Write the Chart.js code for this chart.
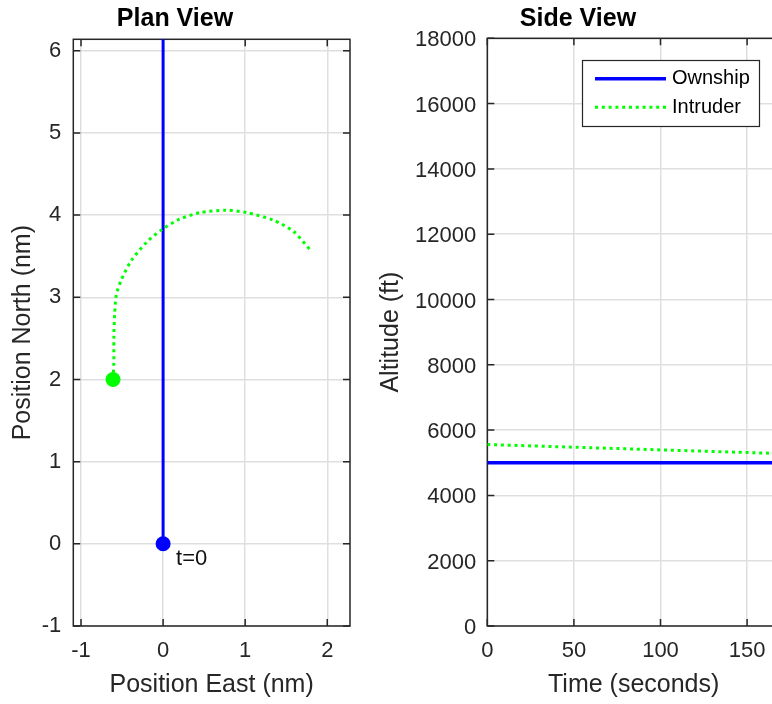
<!DOCTYPE html>
<html>
<head>
<meta charset="utf-8">
<script src="https://cdn.jsdelivr.net/npm/chart.js@4.4.1/dist/chart.umd.min.js"></script>
<style>
  html, body { margin: 0; padding: 0; background: #fff; }
  #wrap { position: relative; width: 772px; height: 704px; overflow: hidden; }
  canvas { position: absolute; top: 0; }
  #plan { left: 0; }
  #side { left: 376px; }
</style>
</head>
<body>
<div id="wrap">
  <canvas id="plan" width="423" height="704"></canvas>
  <canvas id="side" width="515" height="704"></canvas>
</div>
<script>
// plan view, positions in nm
const ownEast = [0, 0];
const ownNorth = [0, 6.5];
const intEast = [-0.61, -0.60, -0.60, -0.59, -0.57, -0.51, -0.385, -0.2, -0.02, 0.2, 0.45, 0.77, 1.02, 1.34, 1.59, 1.79];
const intNorth = [2.0, 2.2, 2.5, 2.8, 3.03, 3.21, 3.45, 3.67, 3.82, 3.95, 4.03, 4.06, 4.03, 3.94, 3.80, 3.58];
const eastTicks = [-1, 0, 1, 2];
const northTicks = [-1, 0, 1, 2, 3, 4, 5, 6];

// side view, altitude in ft over time in s
const ownTime = [0, 169];
const ownAlt = [5000, 5000];
const intTime = [0, 50, 100, 150, 169];
const intAlt = [5558, 5476, 5394, 5313, 5282];
const timeTicks = [0, 50, 100, 150];
const altTicks = [0, 2000, 4000, 6000, 8000, 10000, 12000, 14000, 16000, 18000];

const FONT = '"Liberation Sans", Arial, Helvetica, sans-serif';
const INK = '#262626';
const BLUE = '#0000ff';
const GREEN = '#00ff00';

Chart.defaults.font.family = FONT;
Chart.defaults.color = INK;

const pts = (xs, ys) => xs.map((x, i) => ({ x: x, y: ys[i] }));

function xAxis(title, ticks, min, max) {
  return {
    type: 'linear', position: 'bottom', min: min, max: max,
    afterBuildTicks: s => { s.ticks = ticks.map(v => ({ value: v })); },
    afterFit: s => { s.height = 78; },
    border: { display: false },
    grid: { color: '#dfdfdf', lineWidth: 1.5, drawTicks: false },
    ticks: { padding: 12, font: { size: 22 }, color: INK, callback: v => String(v) },
    title: { display: true, text: title, font: { size: 25 }, color: INK, padding: { top: 0, bottom: 4 } }
  };
}

function yAxis(title, ticks, min, max, width, titlePad, tickPad, offset) {
  return {
    type: 'linear', position: 'left', min: min, max: max,
    afterBuildTicks: s => { s.ticks = ticks.map(v => ({ value: v })); },
    afterFit: s => { s.width = width; },
    border: { display: false },
    grid: { color: '#dfdfdf', lineWidth: 1.5, drawTicks: false },
    ticks: { padding: tickPad, labelOffset: offset, font: { size: 22 }, color: INK, callback: v => String(v) },
    title: { display: true, text: title, font: { size: 25 }, color: INK, padding: { top: titlePad, bottom: 0 } }
  };
}

// box round the plot with inward tick marks on every side
const axesBox = {
  id: 'axesBox',
  beforeDatasetsDraw(chart) {
    const { ctx, chartArea: a, scales } = chart;
    const len = 7;
    ctx.save();
    ctx.strokeStyle = INK;
    ctx.lineWidth = 1.5;
    ctx.beginPath();
    scales.x.ticks.forEach(t => {
      const px = scales.x.getPixelForValue(t.value);
      ctx.moveTo(px, a.bottom); ctx.lineTo(px, a.bottom - len);
      ctx.moveTo(px, a.top); ctx.lineTo(px, a.top + len);
    });
    scales.y.ticks.forEach(t => {
      const py = scales.y.getPixelForValue(t.value);
      ctx.moveTo(a.left, py); ctx.lineTo(a.left + len, py);
      ctx.moveTo(a.right, py); ctx.lineTo(a.right - len, py);
    });
    ctx.stroke();
    ctx.strokeRect(a.left, a.top, a.right - a.left, a.bottom - a.top);
    ctx.restore();
  }
};

const startLabel = {
  id: 'startLabel',
  afterDraw(chart) {
    const { ctx, scales } = chart;
    const px = scales.x.getPixelForValue(ownEast[0]);
    const py = scales.y.getPixelForValue(ownNorth[0]);
    ctx.save();
    ctx.font = '22px ' + FONT;
    ctx.fillStyle = '#111';
    ctx.textAlign = 'left';
    ctx.textBaseline = 'middle';
    ctx.fillText('t=0', px + 13, py + 15);
    ctx.restore();
  }
};

const legendBox = {
  id: 'legendBox',
  afterDraw(chart) {
    const { ctx, chartArea: a } = chart;
    const w = 177, h = 66;
    const x0 = Math.round(a.right - 21 - w), y0 = Math.round(a.top + 22);
    ctx.save();
    ctx.fillStyle = '#fff';
    ctx.fillRect(x0, y0, w, h);
    ctx.strokeStyle = INK;
    ctx.lineWidth = 1.2;
    ctx.strokeRect(x0 + 0.5, y0 + 0.5, w, h);
    chart.data.datasets.forEach((ds, i) => {
      const y = y0 + 18.7 + i * 28.6;
      ctx.strokeStyle = ds.borderColor;
      ctx.lineWidth = ds.borderWidth;
      ctx.setLineDash(ds.borderDash || []);
      ctx.beginPath();
      ctx.moveTo(x0 + 13, y);
      ctx.lineTo(x0 + 84, y);
      ctx.stroke();
      ctx.setLineDash([]);
      ctx.fillStyle = '#000';
      ctx.font = '20px ' + FONT;
      ctx.textAlign = 'left';
      ctx.textBaseline = 'middle';
      ctx.fillText(ds.label, x0 + 90, y);
    });
    ctx.restore();
  }
};

function baseOptions(title, padTop, padBottom, padRight) {
  return {
    responsive: false,
    animation: false,
    devicePixelRatio: 1,
    layout: { padding: { left: 0, right: padRight, top: 0, bottom: 0 } },
    plugins: {
      legend: { display: false },
      tooltip: { enabled: false },
      title: {
        display: true, text: title, color: '#000',
        font: { size: 25, weight: 'bold' },
        padding: { top: padTop, bottom: padBottom }
      }
    }
  };
}

const planOpts = baseOptions('Plan View', 4, 5.3, 73);
planOpts.scales = {
  x: xAxis('Position East (nm)', eastTicks, -1.094, 2.277),
  y: yAxis('Position North (nm)', northTicks, -1, 6.139, 73.3, 8, 12, 0)
};

new Chart(document.getElementById('plan'), {
  type: 'scatter',
  data: {
    datasets: [
      { label: 't0 own', data: pts([ownEast[0]], [ownNorth[0]]), pointRadius: 7.5, backgroundColor: BLUE, borderWidth: 0 },
      { label: 't0 intruder', data: pts([intEast[0]], [intNorth[0]]), pointRadius: 7.5, backgroundColor: GREEN, borderWidth: 0 },
      { label: 'Intruder', data: pts(intEast, intNorth), showLine: true, borderColor: GREEN, borderWidth: 3,
        borderDash: [3, 3.8], tension: 0.25, pointRadius: 0 },
      { label: 'Ownship', data: pts(ownEast, ownNorth), showLine: true, borderColor: BLUE, borderWidth: 3,
        pointRadius: 0, clip: 0 }
    ]
  },
  options: planOpts,
  plugins: [axesBox, startLabel]
});

const sideOpts = baseOptions('Side View', 4, 4.3, 111);
sideOpts.scales = {
  x: xAxis('Time (seconds)', timeTicks, 0, 169),
  y: yAxis('Altitude (ft)', altTicks, 0, 18000, 111.3, 0, 11, 2)
};

new Chart(document.getElementById('side'), {
  type: 'scatter',
  data: {
    datasets: [
      { label: 'Ownship', data: pts(ownTime, ownAlt), showLine: true, borderColor: BLUE, borderWidth: 3.5, pointRadius: 0 },
      { label: 'Intruder', data: pts(intTime, intAlt), showLine: true, borderColor: GREEN, borderWidth: 3,
        borderDash: [3, 3.8], pointRadius: 0 }
    ]
  },
  options: sideOpts,
  plugins: [axesBox, legendBox]
});
</script>
</body>
</html>
